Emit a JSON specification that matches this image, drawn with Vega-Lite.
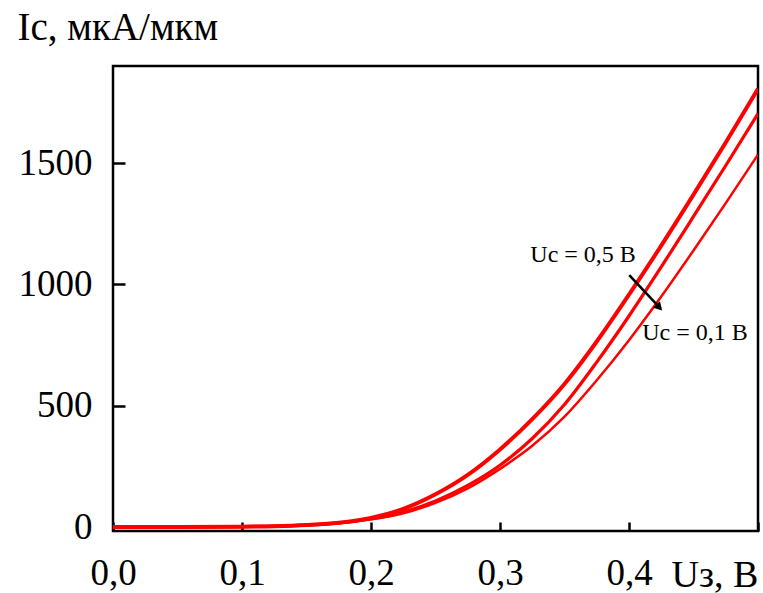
{
  "$schema": "https://vega.github.io/schema/vega-lite/v6.json",
  "autosize": {"type": "none"},
  "width": 645,
  "height": 465,
  "padding": {"left": 113, "top": 66, "right": 5, "bottom": 62},
  "background": "white",
  "config": {
    "view": {"stroke": "black", "strokeWidth": 2.5},
    "font": "Liberation Serif"
  },
  "datasets": {
    "curves": [
      {"x": 0, "I": 0, "s": "a"}, {"x": 0.05, "I": 0, "s": "a"}, {"x": 0.1, "I": 2, "s": "a"}, {"x": 0.125, "I": 4, "s": "a"}, {"x": 0.15, "I": 9, "s": "a"}, {"x": 0.175, "I": 18, "s": "a"}, {"x": 0.2, "I": 38, "s": "a"}, {"x": 0.225, "I": 75, "s": "a"}, {"x": 0.25, "I": 135, "s": "a"}, {"x": 0.275, "I": 215, "s": "a"}, {"x": 0.3, "I": 320, "s": "a"}, {"x": 0.325, "I": 445, "s": "a"}, {"x": 0.35, "I": 590, "s": "a"}, {"x": 0.375, "I": 765, "s": "a"}, {"x": 0.4, "I": 958, "s": "a"}, {"x": 0.425, "I": 1160, "s": "a"}, {"x": 0.45, "I": 1370, "s": "a"}, {"x": 0.475, "I": 1585, "s": "a"}, {"x": 0.5, "I": 1806, "s": "a"},
      {"x": 0, "I": 0, "s": "b"}, {"x": 0.05, "I": 0, "s": "b"}, {"x": 0.1, "I": 2, "s": "b"}, {"x": 0.125, "I": 4, "s": "b"}, {"x": 0.15, "I": 8, "s": "b"}, {"x": 0.175, "I": 17, "s": "b"}, {"x": 0.2, "I": 34, "s": "b"}, {"x": 0.225, "I": 62, "s": "b"}, {"x": 0.25, "I": 108, "s": "b"}, {"x": 0.275, "I": 172, "s": "b"}, {"x": 0.3, "I": 255, "s": "b"}, {"x": 0.325, "I": 365, "s": "b"}, {"x": 0.35, "I": 505, "s": "b"}, {"x": 0.375, "I": 680, "s": "b"}, {"x": 0.4, "I": 870, "s": "b"}, {"x": 0.425, "I": 1072, "s": "b"}, {"x": 0.45, "I": 1280, "s": "b"}, {"x": 0.475, "I": 1490, "s": "b"}, {"x": 0.5, "I": 1704, "s": "b"},
      {"x": 0, "I": 0, "s": "c"}, {"x": 0.05, "I": 0, "s": "c"}, {"x": 0.1, "I": 2, "s": "c"}, {"x": 0.125, "I": 4, "s": "c"}, {"x": 0.15, "I": 8, "s": "c"}, {"x": 0.175, "I": 16, "s": "c"}, {"x": 0.2, "I": 32, "s": "c"}, {"x": 0.225, "I": 57, "s": "c"}, {"x": 0.25, "I": 100, "s": "c"}, {"x": 0.275, "I": 160, "s": "c"}, {"x": 0.3, "I": 240, "s": "c"}, {"x": 0.325, "I": 335, "s": "c"}, {"x": 0.35, "I": 455, "s": "c"}, {"x": 0.375, "I": 605, "s": "c"}, {"x": 0.4, "I": 770, "s": "c"}, {"x": 0.425, "I": 950, "s": "c"}, {"x": 0.45, "I": 1140, "s": "c"}, {"x": 0.475, "I": 1335, "s": "c"}, {"x": 0.5, "I": 1535, "s": "c"}
    ],
    "labels": [
      {"x": 0.3235, "I": 1092, "t": "Uс = 0,5 В"},
      {"x": 0.4102, "I": 770, "t": "Uс = 0,1 В"}
    ],
    "arrow": [
      {"x": 0.4002, "I": 1038, "x2": 0.4245, "I2": 900}
    ],
    "head": [
      {"x": 0.4235, "I": 905}
    ]
  },
  "layer": [
    {
      "data": {"name": "curves"},
      "mark": {"type": "line", "color": "#ff0000", "clip": true, "interpolate": "monotone"},
      "encoding": {
        "x": {
          "field": "x", "type": "quantitative",
          "scale": {"domain": [0, 0.5], "nice": false, "zero": false},
          "axis": {
            "values": [0, 0.1, 0.2, 0.3, 0.4, 0.5],
            "format": ".1f",
            "labelExpr": "datum.value >= 0.45 ? '' : replace(datum.label, '.', ',')",
            "domain": false,
            "grid": false,
            "tickSize": -9,
            "tickWidth": 2.5,
            "tickColor": "black",
            "labelFont": "Liberation Serif",
            "labelFontSize": 37,
            "labelColor": "black",
            "labelPadding": 33,
            "labelFlush": false,
            "labelOverlap": false,
            "title": "Uз, В",
            "titleFont": "Liberation Serif",
            "titleFontSize": 38,
            "titleFontWeight": "normal",
            "titleColor": "black",
            "titleAnchor": "start",
            "titleAlign": "left",
            "titleBaseline": "alphabetic",
            "titleX": 558,
            "titleY": 55
          }
        },
        "y": {
          "field": "I", "type": "quantitative",
          "scale": {"domain": [-16, 1900], "nice": false, "zero": false},
          "axis": {
            "values": [0, 500, 1000, 1500],
            "format": "d",
            "domain": false,
            "grid": false,
            "tickSize": -12,
            "tickWidth": 2.5,
            "tickColor": "black",
            "labelFont": "Liberation Serif",
            "labelFontSize": 37,
            "labelColor": "black",
            "labelPadding": 33,
            "labelFlush": false,
            "labelOverlap": false,
            "title": "Iс, мкА/мкм",
            "titleFont": "Liberation Serif",
            "titleFontSize": 39,
            "titleFontWeight": "normal",
            "titleColor": "black",
            "titleAngle": 0,
            "titleAlign": "left",
            "titleBaseline": "alphabetic",
            "titleX": -96,
            "titleY": -27
          }
        },
        "detail": {"field": "s", "type": "nominal"},
        "strokeWidth": {"field": "s", "type": "nominal", "scale": {"domain": ["a", "b", "c"], "range": [4, 2.5, 2.5]}, "legend": null}
      }
    },
    {
      "data": {"name": "arrow"},
      "mark": {"type": "rule", "color": "black", "strokeWidth": 2.5},
      "encoding": {
        "x": {"field": "x", "type": "quantitative"},
        "y": {"field": "I", "type": "quantitative"},
        "x2": {"field": "x2"},
        "y2": {"field": "I2"}
      }
    },
    {
      "data": {"name": "head"},
      "mark": {"type": "point", "shape": "triangle-up", "filled": true, "color": "black", "opacity": 1, "size": 90, "angle": 137},
      "encoding": {
        "x": {"field": "x", "type": "quantitative"},
        "y": {"field": "I", "type": "quantitative"}
      }
    },
    {
      "data": {"name": "labels"},
      "mark": {"type": "text", "align": "left", "baseline": "alphabetic", "font": "Liberation Serif", "fontSize": 24, "color": "black"},
      "encoding": {
        "x": {"field": "x", "type": "quantitative"},
        "y": {"field": "I", "type": "quantitative"},
        "text": {"field": "t"}
      }
    }
  ]
}
